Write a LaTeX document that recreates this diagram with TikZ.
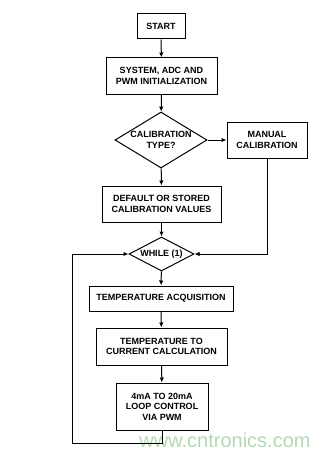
\documentclass[tikz,border=0pt]{standalone}
\usepackage{fontspec}
\setmainfont{Liberation Sans}
\usetikzlibrary{arrows.meta}
\usetikzlibrary{shapes.geometric}
\tikzset{
    flowarrow/.style={-{Latex[length=5pt,width=4.5pt]}, line width=1pt},
    procbox/.style={draw, line width=1pt, align=center, inner sep=0pt,
        font=\fontsize{9}{10.5}\selectfont\bfseries},
    decision/.style={draw, diamond, line width=1pt, align=center, inner sep=0pt,
        font=\fontsize{9}{10.5}\selectfont\bfseries}
}

\begin{document}
\begin{tikzpicture}[x=1pt,y=-1pt]
    \useasboundingbox (0,0) rectangle (327,460);
    \node[text=green!50!black!30, font=\fontsize{20}{20}\selectfont] (mark) at (225,440) {www.cntronics.com};

    \node[procbox, minimum width=48pt, minimum height=25pt] (start) at (161,26.5) {START};
    \node[procbox, minimum width=111pt, minimum height=36pt] (init) at (161.5,76) {SYSTEM, ADC AND\\PWM INITIALIZATION};
    \node[decision, minimum width=92pt, minimum height=56pt, aspect=1.64] (caltype) at (161,140) {CALIBRATION\\TYPE?};
    \node[procbox, minimum width=80pt, minimum height=36pt] (manual) at (267,140) {MANUAL\\CALIBRATION};
    \node[procbox, minimum width=119pt, minimum height=36pt] (defaults) at (161.5,204) {DEFAULT OR STORED\\CALIBRATION VALUES};
    \node[decision, minimum width=65pt, minimum height=34pt, aspect=1.9] (while) at (161.5,254) {WHILE (1)};
    \node[procbox, minimum width=144pt, minimum height=25pt] (acq) at (161,298.5) {TEMPERATURE ACQUISITION};
    \node[procbox, minimum width=131pt, minimum height=37pt] (calc) at (161.5,346.5) {TEMPERATURE TO\\CURRENT CALCULATION};
    \node[procbox, minimum width=92pt, minimum height=47pt] (pwmloop) at (162,406.5) {4mA TO 20mA\\LOOP CONTROL\\VIA PWM};

    \coordinate (backcorner) at (72,443);

    \path [flowarrow](start) edge (init);
    \path [flowarrow](init) edge (caltype);
    \path [flowarrow](caltype) edge (manual);
    \path [flowarrow](caltype) edge (defaults);
    \path [flowarrow](defaults) edge (while);
    \draw [flowarrow](manual.south) |- (while.east);
    \path [flowarrow](while) edge (acq);
    \path [flowarrow](acq) edge (calc);
    \path [flowarrow](calc) edge (pwmloop);
    \draw [flowarrow](pwmloop.south) |- (backcorner) |- (while.west);
\end{tikzpicture}
\end{document}
